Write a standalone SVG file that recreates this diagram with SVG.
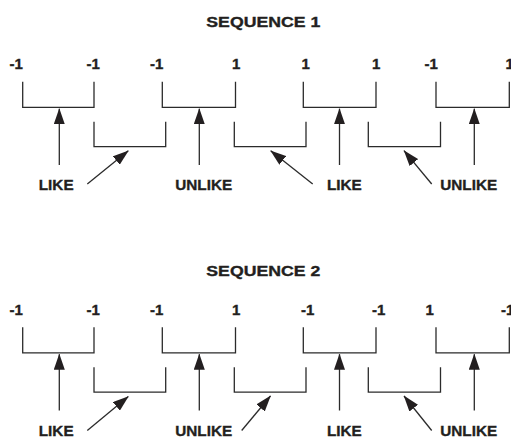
<svg xmlns="http://www.w3.org/2000/svg" width="511" height="437" viewBox="0 0 511 437">
  <style>
    text { font-family: "Liberation Sans", Arial, sans-serif; font-weight: bold; fill: #231f20; stroke: #231f20; stroke-width: 0.35; }
    .title { font-size: 15.3px; text-anchor: middle; }
    .num { font-size: 15px; }
    .lbl { font-size: 15.3px; text-anchor: middle; }
    .br { fill: none; stroke: #2b2b2b; stroke-width: 1.3; }
    .ar { fill: none; stroke: #2b2b2b; stroke-width: 1.3; marker-end: url(#head); }
  </style>
  <defs>
    <marker id="head" viewBox="0 0 16 11" refX="15.5" refY="5.5" markerWidth="16" markerHeight="11" markerUnits="userSpaceOnUse" orient="auto">
      <path d="M0,0 L16,5.5 L0,11 z" fill="#231f20"/>
    </marker>
  </defs>

  <rect width="511" height="437" fill="#ffffff"/>

  <!-- Sequence 1 -->
  <g id="seq1">
    <g id="seq1-title"><text class="title" x="263.3" y="26.5" textLength="114" lengthAdjust="spacingAndGlyphs">SEQUENCE 1</text></g>
    <g id="seq1-values">
      <text class="num" x="9.5" y="69">-1</text>
      <text class="num" x="86.5" y="69">-1</text>
      <text class="num" x="150" y="69">-1</text>
      <text class="num" x="232" y="69">1</text>
      <text class="num" x="301.5" y="69">1</text>
      <text class="num" x="372" y="69">1</text>
      <text class="num" x="424.5" y="69">-1</text>
      <text class="num" x="505.5" y="69">1</text>
    </g>
    <g id="seq1-pair1"><path class="br" d="M22.7,81.7 V107.3 H94 V81.7"/></g>
    <g id="seq1-pair2"><path class="br" d="M94,121.7 V146.7 H165.7 V121.7"/></g>
    <g id="seq1-pair3"><path class="br" d="M162.3,81.7 V107.3 H235.5 V81.7"/></g>
    <g id="seq1-pair4"><path class="br" d="M234.3,121.7 V146.7 H306 V121.7"/></g>
    <g id="seq1-pair5"><path class="br" d="M303.3,81.7 V107.3 H376 V81.7"/></g>
    <g id="seq1-pair6"><path class="br" d="M368.3,121.7 V146.7 H440.5 V121.7"/></g>
    <g id="seq1-pair7"><path class="br" d="M436,81.7 V107.3 H509.3 V81.7"/></g>
    <g id="seq1-labels">
      <text class="lbl" x="56.2" y="190">LIKE</text>
      <text class="lbl" x="203.7" y="190">UNLIKE</text>
      <text class="lbl" x="344.3" y="190">LIKE</text>
      <text class="lbl" x="468.7" y="190">UNLIKE</text>
    </g>
    <g id="seq1-connectors">
      <line class="ar" x1="59.3" y1="165" x2="59.3" y2="108.7"/>
      <line class="ar" x1="87.3" y1="184" x2="128.3" y2="150.7"/>
      <line class="ar" x1="199.3" y1="165" x2="199.3" y2="108.7"/>
      <line class="ar" x1="312.7" y1="184" x2="270.7" y2="150.7"/>
      <line class="ar" x1="339.5" y1="165" x2="339.5" y2="108.7"/>
      <line class="ar" x1="431.7" y1="184" x2="404" y2="150.7"/>
      <line class="ar" x1="474.3" y1="165" x2="474.3" y2="108.7"/>
    </g>
  </g>

  <!-- Sequence 2 -->
  <g id="seq2-title"><text class="title" x="263.3" y="276" textLength="114" lengthAdjust="spacingAndGlyphs">SEQUENCE 2</text></g>
  <g id="seq2" transform="translate(0,245.5)">
    <g id="seq2-values">
      <text class="num" x="9.5" y="69">-1</text>
      <text class="num" x="86.5" y="69">-1</text>
      <text class="num" x="150" y="69">-1</text>
      <text class="num" x="232" y="69">1</text>
      <text class="num" x="301" y="69">-1</text>
      <text class="num" x="372" y="69">-1</text>
      <text class="num" x="425.5" y="69">1</text>
      <text class="num" x="501" y="69">-1</text>
    </g>
    <g id="seq2-pair1"><path class="br" d="M22.7,81.7 V107.3 H94 V81.7"/></g>
    <g id="seq2-pair2"><path class="br" d="M94,121.7 V146.7 H165.7 V121.7"/></g>
    <g id="seq2-pair3"><path class="br" d="M162.3,81.7 V107.3 H235.5 V81.7"/></g>
    <g id="seq2-pair4"><path class="br" d="M234.3,121.7 V146.7 H306 V121.7"/></g>
    <g id="seq2-pair5"><path class="br" d="M303.3,81.7 V107.3 H376 V81.7"/></g>
    <g id="seq2-pair6"><path class="br" d="M368.3,121.7 V146.7 H440.5 V121.7"/></g>
    <g id="seq2-pair7"><path class="br" d="M436,81.7 V107.3 H509.3 V81.7"/></g>
    <g id="seq2-labels">
      <text class="lbl" x="56.2" y="190">LIKE</text>
      <text class="lbl" x="203.7" y="190">UNLIKE</text>
      <text class="lbl" x="344.3" y="190">LIKE</text>
      <text class="lbl" x="468.7" y="190">UNLIKE</text>
    </g>
    <g id="seq2-connectors">
      <line class="ar" x1="59.3" y1="165" x2="59.3" y2="108.7"/>
      <line class="ar" x1="87.3" y1="185" x2="128.3" y2="151"/>
      <line class="ar" x1="199.3" y1="165" x2="199.3" y2="108.7"/>
      <line class="ar" x1="241.7" y1="185" x2="270.5" y2="150.5"/>
      <line class="ar" x1="339.5" y1="165" x2="339.5" y2="108.7"/>
      <line class="ar" x1="431.7" y1="185" x2="404" y2="150.5"/>
      <line class="ar" x1="474.3" y1="165" x2="474.3" y2="108.7"/>
    </g>
  </g>
</svg>
